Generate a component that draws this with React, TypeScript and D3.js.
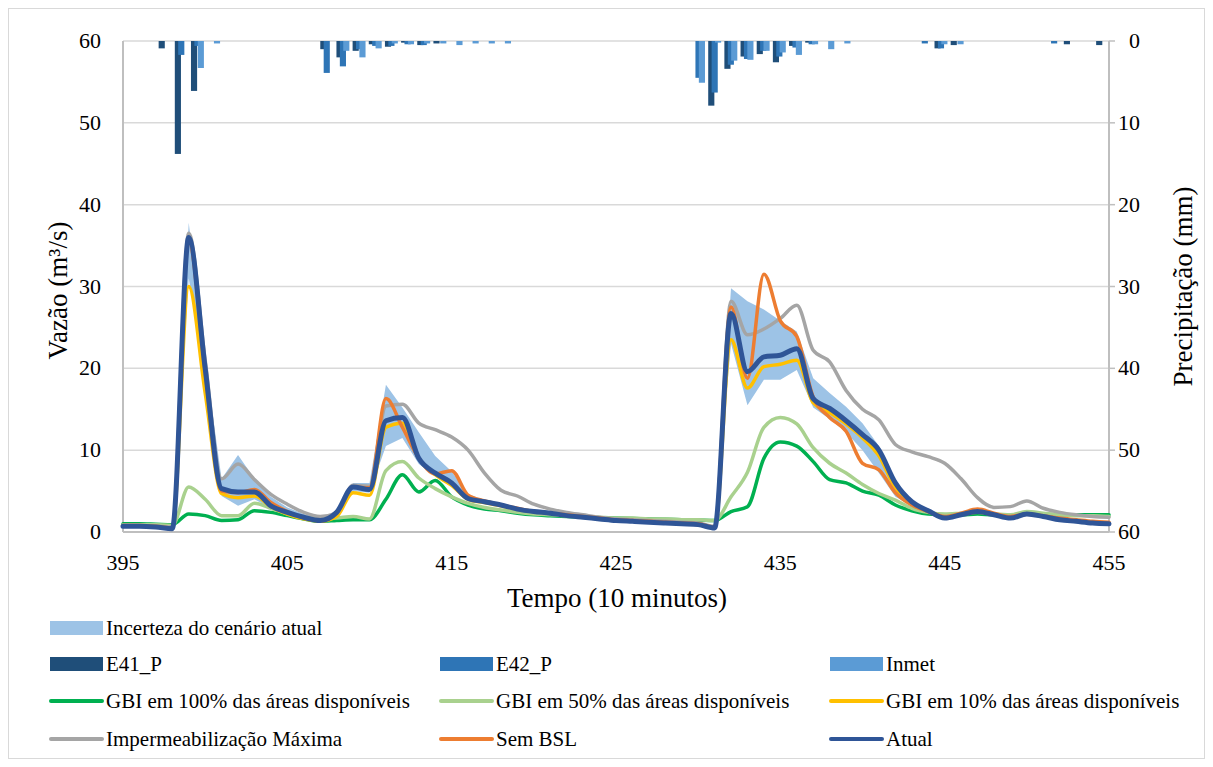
import * as d3 from 'd3';
import React, { useRef, useEffect } from 'react';

// time steps (10 minutes each)
const tempo = d3.range(395, 456);

// flow (m3/s), one value per time step 395..455
const atual = [
  0.7, 0.7, 0.6, 0.4, 36.0, 20.0, 5.3, 4.9, 4.9, 3.2,
  2.4, 1.8, 1.4, 2.4, 5.5, 5.2, 13.6, 14.0, 9.0, 7.2,
  6.0, 4.1, 3.7, 3.3, 2.8, 2.5, 2.3, 2.0, 1.8, 1.6,
  1.4, 1.3, 1.2, 1.1, 1.0, 0.9, 0.5, 26.7, 19.6, 21.4,
  21.6, 22.4, 16.3, 15.1, 13.6, 11.9, 10.0, 6.0, 3.7, 2.6,
  1.7, 2.1, 2.5, 2.1, 1.7, 2.2, 1.9, 1.5, 1.3, 1.1,
  1.0,
];
const semBSL = [
  0.8, 0.8, 0.7, 0.5, 35.5, 19.5, 5.0, 4.8, 5.2, 3.6,
  2.5, 1.7, 1.4, 2.3, 5.5, 5.4, 16.3, 12.8, 9.0, 7.1,
  7.5, 4.5, 3.8, 3.3, 2.9, 2.5, 2.3, 2.1, 1.9, 1.7,
  1.5, 1.4, 1.3, 1.2, 1.1, 1.0, 0.6, 27.5, 18.8, 31.5,
  25.8, 23.9, 16.5, 14.0, 12.3, 8.4, 7.6, 4.8, 3.3, 2.5,
  1.9, 2.3, 2.8, 2.3, 1.9, 2.2, 2.0, 1.7, 1.5, 1.3,
  1.2,
];
const impermMax = [
  0.8, 0.8, 0.7, 0.6, 36.5, 21.0, 6.5, 8.3, 6.4, 4.6,
  3.4, 2.4, 1.9, 2.3, 5.7, 5.6, 15.4, 15.6, 13.3, 12.5,
  11.6, 10.0, 7.2, 5.1, 4.4, 3.4, 2.8, 2.4, 2.1, 1.8,
  1.6, 1.5, 1.4, 1.3, 1.2, 1.1, 0.7, 28.2, 24.1, 24.8,
  26.1, 27.7, 22.2, 20.8, 17.3, 15.0, 13.7, 10.7, 9.8, 9.2,
  8.4, 6.5, 4.2, 3.0, 3.1, 3.8, 2.9, 2.4, 2.1, 1.9,
  1.8,
];
const gbi10 = [
  0.7, 0.7, 0.6, 0.5, 30.0, 17.0, 4.7, 4.2, 4.4, 3.1,
  2.2, 1.6, 1.3, 1.9, 4.8, 4.5, 12.8, 13.3, 9.0, 7.0,
  5.7, 4.0, 3.6, 3.2, 2.8, 2.5, 2.3, 2.0, 1.8, 1.6,
  1.4, 1.3, 1.2, 1.1, 1.0, 0.9, 0.5, 23.5, 17.6, 20.2,
  20.5, 21.0, 15.8, 14.6, 13.2, 11.5, 9.3, 5.4, 3.5, 2.5,
  1.8, 2.1, 2.4, 2.1, 1.8, 2.2, 1.9, 1.6, 1.4, 1.2,
  1.1,
];
const gbi50 = [
  0.9, 0.9, 0.9, 0.8, 5.5, 4.0, 2.0, 2.0, 3.5, 2.9,
  2.2, 1.8, 1.6, 1.7, 1.9, 1.6, 7.5, 8.6, 6.6, 5.3,
  4.3, 3.5, 3.0, 2.7, 2.4, 2.2, 2.1, 2.0, 1.9, 1.8,
  1.7, 1.7, 1.6, 1.6, 1.5, 1.5, 1.4, 4.3, 7.3, 12.8,
  14.0, 13.2, 10.3, 8.4, 7.2, 5.8, 4.7, 3.9, 2.9, 2.4,
  2.2, 2.3, 2.4, 2.2, 2.1, 2.5, 2.3, 2.1, 2.0, 2.0,
  1.9,
];
const gbi100 = [
  1.0, 1.0, 0.95, 0.9, 2.2, 2.0, 1.4, 1.5, 2.6, 2.4,
  2.0, 1.6, 1.3, 1.4, 1.5, 1.5, 4.0, 7.0, 4.9, 6.3,
  4.3, 3.3, 2.8, 2.6, 2.3, 2.1, 2.0, 1.9, 1.8, 1.75,
  1.7, 1.65, 1.6, 1.55, 1.5, 1.45, 1.4, 2.5, 3.1, 9.0,
  11.0, 10.5, 8.6, 6.4, 6.0, 5.0, 4.5, 3.3, 2.6, 2.2,
  2.1, 2.1, 2.2, 2.1, 2.1, 2.2, 2.1, 2.1, 2.1, 2.1,
  2.1,
];
// uncertainty band of the current scenario
const incertezaSup = [
  0.8, 0.8, 0.7, 0.6, 37.8, 21.0, 6.5, 9.4, 6.5, 4.3,
  3.0, 2.2, 1.7, 2.3, 6.0, 6.0, 18.0, 15.2, 12.2, 9.3,
  7.4, 4.6, 3.9, 3.5, 3.0, 2.7, 2.4, 2.1, 1.9, 1.7,
  1.5, 1.4, 1.3, 1.2, 1.1, 1.0, 0.8, 29.8, 28.2, 27.2,
  25.8, 24.5, 18.8, 17.0, 15.3, 13.3, 10.5, 6.3, 3.8, 2.7,
  1.9, 2.3, 2.7, 2.3, 1.9, 2.4, 2.1, 1.7, 1.5, 1.3,
  1.2,
];
const incertezaInf = [
  0.6, 0.6, 0.5, 0.4, 31.0, 19.0, 4.4, 3.2, 4.0, 2.9,
  2.0, 1.5, 1.1, 1.6, 5.0, 4.8, 10.5, 11.5, 8.3, 6.8,
  5.5, 3.8, 3.5, 3.1, 2.6, 2.3, 2.1, 1.9, 1.7, 1.5,
  1.3, 1.2, 1.1, 1.0, 0.9, 0.8, 0.5, 23.0, 15.5, 18.6,
  18.6, 19.8, 15.2, 13.8, 12.2, 10.0, 7.2, 4.3, 3.2, 2.3,
  1.5, 1.9, 2.3, 1.9, 1.5, 2.0, 1.7, 1.3, 1.1, 0.9,
  0.8,
];

// precipitation (mm)
const e41P = [
  0, 0, 0.9, 13.8, 6.1, 0, 0, 0, 0, 0,
  0, 0, 1.0, 2.0, 1.2, 0.4, 0.7, 0.2, 0.5, 0.3,
  0, 0, 0, 0, 0, 0, 0, 0, 0, 0,
  0, 0, 0, 0, 0, 0, 7.9, 3.4, 1.9, 1.6,
  2.6, 0.6, 0.2, 0, 0, 0, 0, 0, 0, 0,
  0.9, 0.5, 0, 0, 0, 0, 0, 0, 0.4, 0,
  0.5,
];
const e42P = [
  0, 0, 0, 1.7, 0.6, 0, 0, 0, 0, 0,
  0, 0, 3.9, 3.1, 1.0, 0.6, 0.6, 0.4, 0.5, 0,
  0, 0, 0, 0, 0, 0, 0, 0, 0, 0,
  0, 0, 0, 0, 0, 4.5, 6.3, 2.9, 2.2, 1.2,
  1.9, 0.8, 0.4, 0, 0, 0, 0, 0, 0, 0.3,
  0.9, 0, 0, 0, 0, 0, 0, 0.3, 0, 0,
  0,
];
const inmet = [
  0, 0, 0, 0, 3.3, 0.3, 0, 0, 0, 0,
  0, 0, 0, 1.2, 2.0, 0.9, 0.3, 0.4, 0.3, 0.3,
  0.5, 0.3, 0.3, 0.3, 0, 0, 0, 0, 0, 0,
  0, 0, 0, 0, 0, 5.1, 0.2, 2.4, 2.3, 1.2,
  1.4, 1.7, 0.4, 1.0, 0.3, 0, 0, 0, 0, 0,
  0.4, 0.4, 0, 0, 0, 0, 0, 0, 0, 0,
  0,
];

const xTicks = [395, 405, 415, 425, 435, 445, 455];
const yTicks = [0, 10, 20, 30, 40, 50, 60];

const lineSeries = [
  { name: 'GBI em 100% das áreas disponíveis', values: gbi100, color: '#00B050', width: 3.5 },
  { name: 'GBI em 50% das áreas disponíveis', values: gbi50, color: '#A9D18E', width: 3.5 },
  { name: 'GBI em 10% das áreas disponíveis', values: gbi10, color: '#FFC000', width: 3.5 },
  { name: 'Impermeabilização Máxima', values: impermMax, color: '#A5A5A5', width: 3.5 },
  { name: 'Sem BSL', values: semBSL, color: '#ED7D31', width: 3.5 },
  { name: 'Atual', values: atual, color: '#2F5597', width: 5 },
];
const barSeries = [
  { name: 'E41_P', values: e41P, color: '#1F4E79' },
  { name: 'E42_P', values: e42P, color: '#2E75B6' },
  { name: 'Inmet', values: inmet, color: '#5B9BD5' },
];
const bandColor = '#9DC3E6';

const W = 1213, H = 767;
const FONT = '"Liberation Serif", "Times New Roman", serif';

export default function App() {
  const svgRef = useRef<SVGSVGElement>(null);

  useEffect(() => {
    if (!svgRef.current) return;
    const svg = d3.select(svgRef.current);
    svg.selectAll('*').remove();

    const left = 123, right = 1109, top = 41, bottom = 532;

    svg.append('rect').attr('width', W).attr('height', H).attr('fill', '#fff');
    svg.append('rect')
      .attr('x', 8.5).attr('y', 8.5).attr('width', 1196).attr('height', 750)
      .attr('fill', 'none').attr('stroke', '#d9d9d9');

    const x = d3.scaleLinear().domain([395, 455]).range([left, right]);
    const xb = d3.scaleBand<number>().domain(tempo).range([left, right]).padding(0);
    const y = d3.scaleLinear().domain([0, 60]).range([bottom, top]);
    const y2 = d3.scaleLinear().domain([0, 60]).range([top, bottom]);

    // gridlines
    svg.append('g').selectAll('line').data(yTicks.filter(d => d > 0)).join('line')
      .attr('x1', left).attr('x2', right)
      .attr('y1', d => y(d)).attr('y2', d => y(d))
      .attr('stroke', '#d9d9d9').attr('stroke-width', 1.5);

    // axis lines
    const axisColor = '#bfbfbf';
    svg.append('line').attr('x1', left).attr('x2', left).attr('y1', top).attr('y2', bottom)
      .attr('stroke', axisColor).attr('stroke-width', 2);
    svg.append('line').attr('x1', right).attr('x2', right).attr('y1', top).attr('y2', bottom)
      .attr('stroke', axisColor).attr('stroke-width', 2);
    svg.append('line').attr('x1', left).attr('x2', right).attr('y1', bottom).attr('y2', bottom)
      .attr('stroke', axisColor).attr('stroke-width', 2);
    // right axis ticks
    svg.append('g').selectAll('line').data(yTicks).join('line')
      .attr('x1', right).attr('x2', right + 6)
      .attr('y1', d => y2(d)).attr('y2', d => y2(d))
      .attr('stroke', axisColor).attr('stroke-width', 1.5);

    // uncertainty band
    const area = d3.area<number>()
      .x((d, i) => x(tempo[i]))
      .y0((d, i) => y(incertezaInf[i]))
      .y1((d) => y(d));
    svg.append('path').datum(incertezaSup).attr('d', area).attr('fill', bandColor);

    // precipitation bars (reversed secondary axis)
    const bw = xb.bandwidth();
    const offsets = [-0.105, 0.105, 0.315];
    const barW = 0.38 * bw;
    barSeries.forEach((s, k) => {
      svg.append('g').selectAll('rect')
        .data(tempo.map((t, i) => ({ t, v: s.values[i] })).filter(d => d.v > 0))
        .join('rect')
        .attr('x', d => (xb(d.t) as number) + bw / 2 + offsets[k] * bw - barW / 2)
        .attr('y', top)
        .attr('width', barW)
        .attr('height', d => y2(d.v) - top)
        .attr('fill', s.color);
    });

    // flow lines
    const line = d3.line<number>()
      .x((d, i) => x(tempo[i]))
      .y(d => y(d))
      .curve(d3.curveMonotoneX);
    lineSeries.forEach(s => {
      svg.append('path').datum(s.values).attr('d', line)
        .attr('fill', 'none').attr('stroke', s.color).attr('stroke-width', s.width)
        .attr('stroke-linejoin', 'round').attr('stroke-linecap', 'round');
    });

    // tick labels
    const tickFont = 22;
    svg.append('g').selectAll('text').data(yTicks).join('text')
      .attr('x', left - 22).attr('y', d => y(d) + 7)
      .attr('text-anchor', 'end').attr('font-family', FONT).attr('font-size', tickFont)
      .text(d => d);
    svg.append('g').selectAll('text').data(yTicks).join('text')
      .attr('x', right + 31).attr('y', d => y2(d) + 7)
      .attr('text-anchor', 'end').attr('font-family', FONT).attr('font-size', tickFont)
      .text(d => d);
    svg.append('g').selectAll('text').data(xTicks).join('text')
      .attr('x', d => x(d)).attr('y', bottom + 38)
      .attr('text-anchor', 'middle').attr('font-family', FONT).attr('font-size', tickFont)
      .text(d => d);

    // axis titles
    const titleFont = 27;
    svg.append('text').attr('x', (left + right) / 2 + 1).attr('y', 607)
      .attr('text-anchor', 'middle').attr('font-family', FONT).attr('font-size', titleFont)
      .text('Tempo (10 minutos)');
    svg.append('text').attr('transform', `translate(67,${(top + bottom) / 2 + 4}) rotate(-90)`)
      .attr('text-anchor', 'middle').attr('font-family', FONT).attr('font-size', titleFont)
      .text('Vazão (m³/s)');
    svg.append('text').attr('transform', `translate(1192,${(top + bottom) / 2}) rotate(-90)`)
      .attr('text-anchor', 'middle').attr('font-family', FONT).attr('font-size', titleFont)
      .text('Precipitação (mm)');

    // legend
    const colX = [50, 440, 830];
    const rowY = [628, 664, 701, 739];
    const legendFont = 21;
    const legendRows: { name: string; color: string; kind: string }[][] = [
      [{ name: 'Incerteza do cenário atual', color: bandColor, kind: 'box' }],
      barSeries.map(s => ({ name: s.name, color: s.color, kind: 'box' })),
      lineSeries.slice(0, 3).map(s => ({ name: s.name, color: s.color, kind: 'line' })),
      lineSeries.slice(3).map(s => ({ name: s.name, color: s.color, kind: 'line' })),
    ];
    legendRows.forEach((row, r) => {
      row.forEach((item, c) => {
        const g = svg.append('g').attr('transform', `translate(${colX[c]},${rowY[r]})`);
        if (item.kind === 'box') {
          g.append('rect').attr('x', 0).attr('y', -7).attr('width', 53).attr('height', 14).attr('fill', item.color);
        } else {
          g.append('line').attr('x1', 1).attr('x2', 52).attr('y1', 0).attr('y2', 0)
            .attr('stroke', item.color).attr('stroke-width', 4).attr('stroke-linecap', 'round');
        }
        g.append('text').attr('x', 56).attr('y', 7)
          .attr('font-family', FONT).attr('font-size', legendFont).text(item.name);
      });
    });
  }, []);

  return (
    <div style={{ position: 'absolute', left: 0, top: 0 }}>
      <svg ref={svgRef} width={W} height={H} style={{ display: 'block' }} />
    </div>
  );
}
